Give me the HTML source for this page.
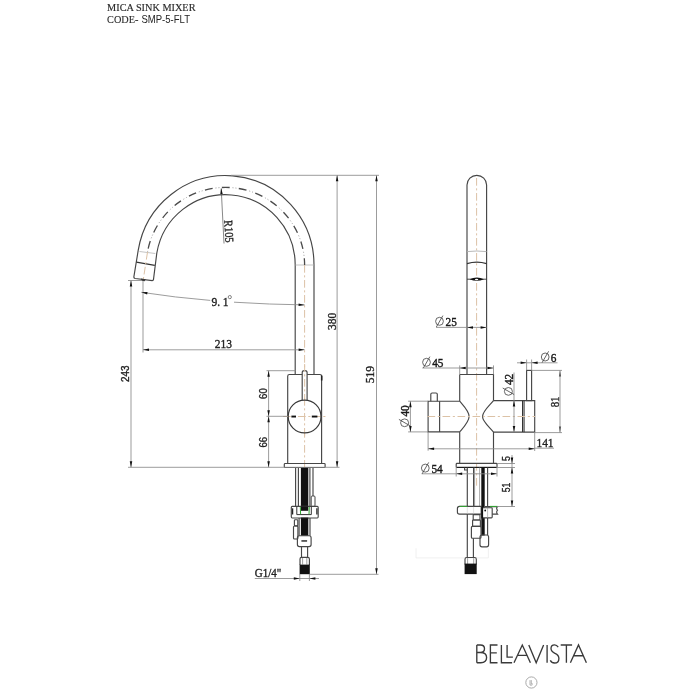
<!DOCTYPE html>
<html><head><meta charset="utf-8"><title>Mica Sink Mixer</title>
<style>
html,body{margin:0;padding:0;background:#fff;width:700px;height:700px;overflow:hidden;font-family:"Liberation Sans",sans-serif;}
svg{display:block;will-change:transform;}
</style></head>
<body>
<svg width="700" height="700" viewBox="0 0 700 700">
<rect width="700" height="700" fill="#fff"/>
<path d="M314.0,374.5 L314.0,265.0 A88.5,89.5 0 0 0 138.19,250.40 L133.9,276.6 Q133.6,278.2 135.2,278.5 L152.2,280.6 Q153.4,280.6 153.5,279.4 L156.79,253.20 A69.7,70.3 0 0 1 295.2,265.0 L295.2,374.5" stroke="#464646" stroke-width="1.15" fill="none"/>
<line x1="136.40" y1="262.20" x2="154.80" y2="265.40" stroke="#333" stroke-width="1.3"/>
<line x1="139.50" y1="251.50" x2="155.30" y2="253.50" stroke="#aaa" stroke-width="0.7"/>
<line x1="295.20" y1="265.00" x2="314.00" y2="265.00" stroke="#aaa" stroke-width="0.7"/>
<path d="M304.6,265.0 A79.1,77.6 0 0 0 147.52,252.00" stroke="#4a4a4a" stroke-width="1.3" fill="none" stroke-dasharray="7.8 9.3" stroke-dashoffset="0.93"/>
<path d="M304.6,265.0 A79.1,77.6 0 0 0 147.52,252.00" stroke="#9a9a9a" stroke-width="1.0" fill="none" stroke-dasharray="1 2.0 1 13.1" stroke-dashoffset="7.83"/>
<line x1="147.52" y1="252.00" x2="143.30" y2="279.50" stroke="#dcc2a6" stroke-width="1.0" fill="none" stroke-dasharray="7.7 2.6 2.1 2.6"/>
<line x1="304.60" y1="265.00" x2="304.60" y2="470.00" stroke="#dcc2a6" stroke-width="1.0" fill="none" stroke-dasharray="7.7 2.6 2.1 2.6"/>
<path d="M140.8,278.6 L145.8,279.3 L144.7,281.2 L141.7,280.8 Z" fill="#3a3a3a"/>
<path d="M287.7,463.5 L287.7,376.2 Q287.7,374.5 289.4,374.5 L319.9,374.5 Q321.6,374.5 321.6,376.2 L321.6,463.5" stroke="#464646" stroke-width="1.15" fill="none"/>
<line x1="321.70" y1="375.50" x2="321.70" y2="380.50" stroke="#222" stroke-width="1.6"/>
<path d="M302.2,401 L302.2,372.5 Q302.2,370.6 304.65,370.6 Q307.1,370.6 307.1,372.5 L307.1,401" fill="#fff" stroke="#464646" stroke-width="1.15"/>
<line x1="304.65" y1="364.00" x2="304.65" y2="400.00" stroke="#dcc2a6" stroke-width="1.0" fill="none" stroke-dasharray="7.7 2.6 2.1 2.6"/>
<circle cx="304.6" cy="416.5" r="16.4" fill="#fff" stroke="none"/>
<line x1="304.60" y1="398.00" x2="304.60" y2="436.00" stroke="#dcc2a6" stroke-width="1.0" fill="none" stroke-dasharray="7.7 2.6 2.1 2.6"/>
<line x1="283.00" y1="416.50" x2="327.00" y2="416.50" stroke="#dcc2a6" stroke-width="1.0" fill="none" stroke-dasharray="7.7 2.6 2.1 2.6"/>
<circle cx="304.6" cy="416.5" r="16.4" fill="none" stroke="#3a3a3a" stroke-width="1.2"/>
<rect x="291.4" y="415.6" width="4.6" height="1.9" fill="#111"/>
<rect x="311.8" y="415.6" width="5.6" height="1.9" fill="#111"/>
<rect x="284.30" y="463.50" width="40.80" height="4.00" rx="0.8" stroke="#464646" stroke-width="1.15" fill="none"/>
<line x1="295.60" y1="467.50" x2="295.60" y2="506.40" stroke="#464646" stroke-width="1.15" fill="none"/>
<line x1="298.40" y1="467.50" x2="298.40" y2="506.40" stroke="#464646" stroke-width="1.15" fill="none"/>
<rect x="300.9" y="467.5" width="7.4" height="68.2" fill="#111"/>
<line x1="309.90" y1="467.50" x2="309.90" y2="506.40" stroke="#464646" stroke-width="1.15" fill="none"/>
<line x1="313.00" y1="467.50" x2="313.00" y2="506.40" stroke="#464646" stroke-width="1.15" fill="none"/>
<rect x="311.2" y="496.0" width="3.8" height="10.4" rx="1" fill="#fff" stroke="#464646" stroke-width="1.0"/>
<path d="M292.2,506.4 L317.3,506.4 Q318.2,506.4 318.2,507.6 L318.2,516.8 Q318.2,518 317.3,518 L292.2,518 Q291.3,518 291.3,516.8 L291.3,507.6 Q291.3,506.4 292.2,506.4 Z" fill="#fff" stroke="#464646" stroke-width="1.15"/>
<rect x="300.9" y="506.4" width="7.4" height="4.4" fill="#111"/>
<rect x="300.9" y="517.6" width="7.4" height="1" fill="#111"/>
<path d="M296.8,506.6 L296.8,514.6 L311.3,514.6 L311.3,506.6" stroke="#333" stroke-width="1.0" fill="none"/>
<line x1="300.30" y1="507.00" x2="300.60" y2="514.20" stroke="#3a3" stroke-width="1.0"/>
<line x1="309.30" y1="507.00" x2="309.00" y2="514.20" stroke="#3a3" stroke-width="1.0"/>
<line x1="292.60" y1="508.30" x2="292.60" y2="514.50" stroke="#222" stroke-width="1.3"/>
<line x1="316.90" y1="508.30" x2="316.90" y2="514.50" stroke="#222" stroke-width="1.3"/>
<line x1="299.10" y1="518.00" x2="299.10" y2="535.70" stroke="#464646" stroke-width="1.15" fill="none"/>
<line x1="310.00" y1="518.00" x2="310.00" y2="535.70" stroke="#464646" stroke-width="1.15" fill="none"/>
<rect x="294.40" y="519.70" width="3.40" height="6.20" rx="0.8" stroke="#464646" stroke-width="1.15" fill="none"/>
<rect x="293.50" y="526.00" width="4.40" height="13.00" rx="1" stroke="#464646" stroke-width="1.15" fill="none"/>
<rect x="297.40" y="535.70" width="13.70" height="10.90" rx="2" stroke="#464646" stroke-width="1.15" fill="none"/>
<rect x="301.4" y="540.3" width="5.7" height="1.3" fill="#111"/>
<line x1="301.50" y1="546.60" x2="301.50" y2="557.40" stroke="#464646" stroke-width="1.15" fill="none"/>
<line x1="307.60" y1="546.60" x2="307.60" y2="557.40" stroke="#464646" stroke-width="1.15" fill="none"/>
<path d="M300.0,565 L300.0,559 Q300.0,557.4 301.6,557.4 L307.8,557.4 Q309.4,557.4 309.4,559 L309.4,565" stroke="#464646" stroke-width="1.15" fill="none"/>
<line x1="302.60" y1="558.00" x2="302.60" y2="564.50" stroke="#777" stroke-width="0.7"/>
<line x1="306.80" y1="558.00" x2="306.80" y2="564.50" stroke="#777" stroke-width="0.7"/>
<rect x="299.6" y="564.6" width="10.2" height="9.6" fill="#111"/>
<line x1="231.00" y1="175.30" x2="379.00" y2="175.30" stroke="#8a8a8a" stroke-width="0.85" fill="none"/>
<line x1="337.10" y1="175.30" x2="337.10" y2="467.30" stroke="#8a8a8a" stroke-width="0.85" fill="none"/>
<path d="M337.10,175.30 L338.35,181.30 L335.85,181.30 Z" fill="#111"/>
<path d="M337.10,467.30 L335.85,461.30 L338.35,461.30 Z" fill="#111"/>
<line x1="376.50" y1="175.30" x2="376.50" y2="574.30" stroke="#8a8a8a" stroke-width="0.85" fill="none"/>
<path d="M376.50,175.30 L377.75,181.30 L375.25,181.30 Z" fill="#111"/>
<path d="M376.50,574.30 L375.25,568.30 L377.75,568.30 Z" fill="#111"/>
<line x1="128.00" y1="467.30" x2="339.50" y2="467.30" stroke="#8a8a8a" stroke-width="0.85" fill="none"/>
<line x1="309.40" y1="574.30" x2="378.50" y2="574.30" stroke="#8a8a8a" stroke-width="0.85" fill="none"/>
<line x1="131.00" y1="280.50" x2="131.00" y2="467.30" stroke="#8a8a8a" stroke-width="0.85" fill="none"/>
<path d="M131.00,280.50 L132.25,286.50 L129.75,286.50 Z" fill="#111"/>
<path d="M131.00,467.30 L129.75,461.30 L132.25,461.30 Z" fill="#111"/>
<line x1="128.00" y1="280.50" x2="142.00" y2="280.50" stroke="#8a8a8a" stroke-width="0.85" fill="none"/>
<line x1="143.00" y1="281.00" x2="143.00" y2="352.50" stroke="#8a8a8a" stroke-width="0.85" fill="none"/>
<line x1="143.00" y1="349.80" x2="304.60" y2="349.80" stroke="#8a8a8a" stroke-width="0.85" fill="none"/>
<path d="M143.00,349.80 L149.00,348.55 L149.00,351.05 Z" fill="#111"/>
<path d="M304.60,349.80 L298.60,351.05 L298.60,348.55 Z" fill="#111"/>
<path d="M141.4,292.3 Q175,297.5 210.2,300.4" stroke="#8a8a8a" stroke-width="0.85" fill="none"/>
<path d="M234,302.2 Q270,304.5 304.6,304.9" stroke="#8a8a8a" stroke-width="0.85" fill="none"/>
<path d="M141.40,292.30 L147.52,292.01 L147.13,294.48 Z" fill="#111"/>
<path d="M304.60,304.90 L298.59,306.09 L298.61,303.59 Z" fill="#111"/>
<line x1="266.50" y1="370.70" x2="295.50" y2="370.70" stroke="#8a8a8a" stroke-width="0.85" fill="none"/>
<line x1="268.60" y1="370.70" x2="268.60" y2="467.30" stroke="#8a8a8a" stroke-width="0.85" fill="none"/>
<path d="M268.60,370.70 L269.85,376.70 L267.35,376.70 Z" fill="#111"/>
<path d="M268.60,416.30 L267.35,410.30 L269.85,410.30 Z" fill="#111"/>
<path d="M268.60,416.30 L269.85,422.30 L267.35,422.30 Z" fill="#111"/>
<path d="M268.60,467.30 L267.35,461.30 L269.85,461.30 Z" fill="#111"/>
<line x1="266.50" y1="416.30" x2="287.60" y2="416.30" stroke="#8a8a8a" stroke-width="0.85" fill="none"/>
<line x1="254.80" y1="578.50" x2="319.00" y2="578.50" stroke="#8a8a8a" stroke-width="0.85" fill="none"/>
<path d="M299.80,578.50 L293.80,579.75 L293.80,577.25 Z" fill="#111"/>
<path d="M309.40,578.50 L315.40,577.25 L315.40,579.75 Z" fill="#111"/>
<line x1="299.80" y1="574.00" x2="299.80" y2="581.00" stroke="#8a8a8a" stroke-width="0.85" fill="none"/>
<line x1="309.40" y1="574.00" x2="309.40" y2="581.00" stroke="#8a8a8a" stroke-width="0.85" fill="none"/>
<line x1="221.20" y1="188.50" x2="224.00" y2="243.50" stroke="#555" stroke-width="0.7"/>
<path d="M221.20,188.00 L222.70,193.93 L220.30,194.05 Z" fill="#111"/>
<text transform="translate(332.30,321.30) rotate(-90) scale(0.92,1)" font-family="Liberation Serif" font-size="12.5" text-anchor="middle" dominant-baseline="central" fill="#222" stroke="#222" stroke-width="0.35" font-weight="normal">380</text>
<text transform="translate(370.70,374.70) rotate(-90) scale(0.95,1)" font-family="Liberation Serif" font-size="12.0" text-anchor="middle" dominant-baseline="central" fill="#222" stroke="#222" stroke-width="0.35" font-weight="normal">519</text>
<text transform="translate(125.10,373.80) rotate(-90) scale(0.92,1)" font-family="Liberation Sans" font-size="10.8" text-anchor="middle" dominant-baseline="central" fill="#222" stroke="#222" stroke-width="0.35" font-weight="normal">243</text>
<text transform="translate(263.20,393.60) rotate(-90) scale(0.85,1)" font-family="Liberation Sans" font-size="11.2" text-anchor="middle" dominant-baseline="central" fill="#222" stroke="#222" stroke-width="0.35" font-weight="normal">60</text>
<text transform="translate(263.20,442.20) rotate(-90) scale(0.85,1)" font-family="Liberation Sans" font-size="11.2" text-anchor="middle" dominant-baseline="central" fill="#222" stroke="#222" stroke-width="0.35" font-weight="normal">66</text>
<text transform="translate(223.40,344.00) rotate(0) scale(0.92,1)" font-family="Liberation Serif" font-size="12.5" text-anchor="middle" dominant-baseline="central" fill="#222" stroke="#222" stroke-width="0.35" font-weight="normal">213</text>
<text transform="translate(220.00,301.60) rotate(0) scale(0.92,1)" font-family="Liberation Serif" font-size="12.5" text-anchor="middle" dominant-baseline="central" fill="#222" stroke="#222" stroke-width="0.35" font-weight="normal">9. 1</text>
<circle cx="229.8" cy="297.1" r="1.6" fill="none" stroke="#444" stroke-width="0.65"/>
<text transform="translate(229.20,231.30) rotate(87) scale(0.86,1)" font-family="Liberation Serif" font-size="12.0" text-anchor="middle" dominant-baseline="central" fill="#222" stroke="#222" stroke-width="0.35" font-weight="normal">R105</text>
<text transform="translate(254.80,572.80) rotate(0) scale(0.92,1)" font-family="Liberation Serif" font-size="12.0" text-anchor="start" dominant-baseline="central" fill="#222" stroke="#222" stroke-width="0.35" font-weight="normal">G1/4"</text>
<path d="M467.0,374.5 L467.0,185.1 A9.8,9.8 0 0 1 486.6,185.1 L486.6,374.5" stroke="#464646" stroke-width="1.15" fill="none"/>
<line x1="476.60" y1="178.00" x2="476.60" y2="486.00" stroke="#dcc2a6" stroke-width="1.0" fill="none" stroke-dasharray="7.7 2.6 2.1 2.6"/>
<path d="M467.0,251.6 Q476.8,250.4 486.6,251.6" stroke="#b0b0b0" stroke-width="0.9" fill="none"/>
<path d="M467.0,263.6 Q476.8,260.6 486.6,263.6" stroke="#333" stroke-width="1.2" fill="none"/>
<line x1="467.00" y1="279.20" x2="486.60" y2="279.20" stroke="#333" stroke-width="0.9"/>
<path d="M469.6,279.2 Q476.8,275.9 484.0,279.2 Q476.8,282.3 469.6,279.2 Z" fill="#111"/>
<ellipse cx="476.6" cy="279.4" rx="1.7" ry="0.75" fill="#fff"/>
<path d="M459.7,374.5 L493.5,374.5 L493.5,400.8 M459.7,374.5 L459.7,401.2 C463.6,405.8 469.1,411.3 469.1,416.4 C469.1,421.5 463.6,427.2 459.7,431.9 L459.7,463.5" stroke="#464646" stroke-width="1.15" fill="none"/>
<path d="M493.5,400.6 C489.6,405.4 482.5,411.4 482.5,416.5 C482.5,421.6 489.6,427.3 493.5,432.1 L493.5,463.5" stroke="#464646" stroke-width="1.15" fill="none"/>
<path d="M459.7,401.2 L428.1,401.2 L428.1,431.9 L459.7,431.9" stroke="#464646" stroke-width="1.15" fill="none"/>
<line x1="439.60" y1="401.20" x2="439.60" y2="431.90" stroke="#464646" stroke-width="1.15" fill="none"/>
<path d="M430.8,401.2 L430.8,394.3 Q430.8,393 432.1,393 L436.0,393 Q437.3,393 437.3,394.3 L437.3,401.2" stroke="#464646" stroke-width="1.15" fill="none"/>
<path d="M493.5,400.6 L534.7,400.6 L534.7,432.1 L493.5,432.1" stroke="#464646" stroke-width="1.15" fill="none"/>
<line x1="522.60" y1="400.60" x2="522.60" y2="432.10" stroke="#333" stroke-width="1.2"/>
<line x1="524.10" y1="400.60" x2="524.10" y2="432.10" stroke="#333" stroke-width="1.0"/>
<rect x="526.60" y="370.40" width="5.00" height="30.20" rx="0" stroke="#464646" stroke-width="1.15" fill="none"/>
<line x1="427.50" y1="416.50" x2="535.00" y2="416.50" stroke="#dcc2a6" stroke-width="1.0" fill="none" stroke-dasharray="7.7 2.6 2.1 2.6"/>
<rect x="456.20" y="463.40" width="40.80" height="4.10" rx="0.8" stroke="#464646" stroke-width="1.15" fill="none"/>
<line x1="457.00" y1="467.30" x2="496.00" y2="467.30" stroke="#111" stroke-width="1.0"/>
<line x1="467.30" y1="467.50" x2="467.30" y2="557.50" stroke="#464646" stroke-width="1.15" fill="none"/>
<line x1="473.60" y1="467.50" x2="473.60" y2="514.00" stroke="#464646" stroke-width="1.15" fill="none"/>
<line x1="474.60" y1="467.50" x2="474.60" y2="506.50" stroke="#666" stroke-width="0.6"/>
<line x1="479.60" y1="467.50" x2="479.60" y2="506.50" stroke="#888" stroke-width="0.7"/>
<rect x="481.3" y="467.5" width="3.4" height="68" fill="#111"/>
<line x1="487.60" y1="467.50" x2="487.60" y2="535.00" stroke="#464646" stroke-width="1.15" fill="none"/>
<path d="M464.6,467.5 L464.6,470.0 L467.3,470.0" stroke="#464646" stroke-width="1.15" fill="none"/>
<path d="M459.5,506.4 L481.2,506.4 L481.2,514.1 L459.5,514.1 Q457.4,514.1 457.4,512.0 L457.4,508.5 Q457.4,506.4 459.5,506.4 Z" fill="#fff" stroke="#464646" stroke-width="1.15"/>
<line x1="467.30" y1="506.90" x2="467.30" y2="513.60" stroke="#ccc" stroke-width="0.6"/>
<line x1="473.60" y1="506.90" x2="473.60" y2="513.60" stroke="#ccc" stroke-width="0.6"/>
<line x1="459.50" y1="506.40" x2="467.30" y2="506.40" stroke="#3a3" stroke-width="1.0"/>
<path d="M485.0,506.6 L497.5,506.6 Q495.8,508.4 497.5,510.2 Q495.8,512.1 497.5,514.1 L491.5,514.1" fill="#fff" stroke="#464646" stroke-width="1.1"/>
<line x1="490.00" y1="506.40" x2="497.50" y2="506.40" stroke="#3a3" stroke-width="1.0"/>
<rect x="482.2" y="507.7" width="10.0" height="10.2" rx="0.8" fill="#fff" stroke="#464646" stroke-width="1.15"/>
<line x1="487.60" y1="507.70" x2="487.60" y2="517.90" stroke="#999" stroke-width="0.6"/>
<rect x="481.3" y="506.4" width="1.8" height="12" fill="#111"/>
<circle cx="485.2" cy="510.5" r="0.9" fill="#111"/>
<path d="M416,548.3 L416,557.9 L488.4,557.9 L488.4,548.3" fill="none" stroke="#ececec" stroke-width="0.8"/>
<rect x="473.20" y="514.60" width="6.80" height="5.40" rx="0.5" stroke="#464646" stroke-width="1.15" fill="none"/>
<rect x="472.60" y="520.00" width="7.80" height="6.40" rx="0.5" stroke="#464646" stroke-width="1.15" fill="none"/>
<rect x="471.40" y="526.40" width="9.60" height="11.80" rx="1" stroke="#464646" stroke-width="1.15" fill="none"/>
<line x1="473.40" y1="538.20" x2="473.40" y2="557.50" stroke="#464646" stroke-width="1.15" fill="none"/>
<rect x="480.00" y="535.00" width="8.60" height="11.80" rx="2" stroke="#464646" stroke-width="1.15" fill="none"/>
<path d="M465.0,564.5 L465.0,559.2 Q465.0,557.5 466.7,557.5 L474.6,557.5 Q476.3,557.5 476.3,559.2 L476.3,564.5" stroke="#464646" stroke-width="1.15" fill="none"/>
<line x1="467.60" y1="558.20" x2="467.60" y2="564.00" stroke="#777" stroke-width="0.7"/>
<line x1="473.70" y1="558.20" x2="473.70" y2="564.00" stroke="#777" stroke-width="0.7"/>
<rect x="464.6" y="563.6" width="12.1" height="10.5" fill="#111"/>
<line x1="436.00" y1="327.40" x2="486.60" y2="327.40" stroke="#8a8a8a" stroke-width="0.85" fill="none"/>
<path d="M467.00,327.40 L473.00,326.15 L473.00,328.65 Z" fill="#111"/>
<path d="M486.60,327.40 L480.60,328.65 L480.60,326.15 Z" fill="#111"/>
<g transform="translate(439.50,321.30) rotate(0)"><ellipse rx="3.88" ry="4.00" fill="none" stroke="#4a4a4a" stroke-width="0.85"/><line x1="-3.12" y1="5.68" x2="3.40" y2="-5.68" stroke="#4a4a4a" stroke-width="0.85"/></g>
<text transform="translate(451.20,321.70) rotate(0) scale(0.88,1)" font-family="Liberation Serif" font-size="12.8" text-anchor="middle" dominant-baseline="central" fill="#1a1a1a" stroke="#1a1a1a" stroke-width="0.42" font-weight="normal">25</text>
<line x1="422.30" y1="368.00" x2="493.50" y2="368.00" stroke="#8a8a8a" stroke-width="0.85" fill="none"/>
<path d="M459.70,368.00 L465.70,366.75 L465.70,369.25 Z" fill="#111"/>
<path d="M493.50,368.00 L487.50,369.25 L487.50,366.75 Z" fill="#111"/>
<line x1="459.70" y1="365.40" x2="459.70" y2="374.50" stroke="#8a8a8a" stroke-width="0.85" fill="none"/>
<line x1="493.50" y1="365.40" x2="493.50" y2="374.50" stroke="#8a8a8a" stroke-width="0.85" fill="none"/>
<g transform="translate(426.50,362.30) rotate(0)"><ellipse rx="3.88" ry="4.00" fill="none" stroke="#4a4a4a" stroke-width="0.85"/><line x1="-3.12" y1="5.68" x2="3.40" y2="-5.68" stroke="#4a4a4a" stroke-width="0.85"/></g>
<text transform="translate(437.80,362.80) rotate(0) scale(0.88,1)" font-family="Liberation Serif" font-size="12.8" text-anchor="middle" dominant-baseline="central" fill="#1a1a1a" stroke="#1a1a1a" stroke-width="0.42" font-weight="normal">45</text>
<line x1="517.00" y1="362.80" x2="557.50" y2="362.80" stroke="#8a8a8a" stroke-width="0.85" fill="none"/>
<path d="M526.60,362.80 L520.60,364.05 L520.60,361.55 Z" fill="#111"/>
<path d="M531.60,362.80 L537.60,361.55 L537.60,364.05 Z" fill="#111"/>
<line x1="526.60" y1="359.50" x2="526.60" y2="370.40" stroke="#8a8a8a" stroke-width="0.85" fill="none"/>
<line x1="531.60" y1="359.50" x2="531.60" y2="370.40" stroke="#8a8a8a" stroke-width="0.85" fill="none"/>
<g transform="translate(545.20,357.00) rotate(0)"><ellipse rx="3.88" ry="4.00" fill="none" stroke="#4a4a4a" stroke-width="0.85"/><line x1="-3.12" y1="5.68" x2="3.40" y2="-5.68" stroke="#4a4a4a" stroke-width="0.85"/></g>
<text transform="translate(553.60,358.00) rotate(0) scale(0.88,1)" font-family="Liberation Serif" font-size="12.8" text-anchor="middle" dominant-baseline="central" fill="#1a1a1a" stroke="#1a1a1a" stroke-width="0.42" font-weight="normal">6</text>
<line x1="514.00" y1="372.50" x2="514.00" y2="432.10" stroke="#8a8a8a" stroke-width="0.85" fill="none"/>
<path d="M514.00,400.60 L515.25,406.60 L512.75,406.60 Z" fill="#111"/>
<path d="M514.00,432.10 L512.75,426.10 L515.25,426.10 Z" fill="#111"/>
<g transform="translate(508.40,391.40) rotate(-90)"><ellipse rx="3.88" ry="4.00" fill="none" stroke="#4a4a4a" stroke-width="0.85"/><line x1="-3.12" y1="5.68" x2="3.40" y2="-5.68" stroke="#4a4a4a" stroke-width="0.85"/></g>
<text transform="translate(508.60,379.50) rotate(-90) scale(0.88,1)" font-family="Liberation Serif" font-size="12.8" text-anchor="middle" dominant-baseline="central" fill="#1a1a1a" stroke="#1a1a1a" stroke-width="0.42" font-weight="normal">42</text>
<line x1="408.10" y1="401.20" x2="428.10" y2="401.20" stroke="#8a8a8a" stroke-width="0.85" fill="none"/>
<line x1="408.10" y1="431.90" x2="428.10" y2="431.90" stroke="#8a8a8a" stroke-width="0.85" fill="none"/>
<line x1="410.40" y1="401.20" x2="410.40" y2="431.90" stroke="#8a8a8a" stroke-width="0.85" fill="none"/>
<path d="M410.40,401.20 L411.65,407.20 L409.15,407.20 Z" fill="#111"/>
<path d="M410.40,431.90 L409.15,425.90 L411.65,425.90 Z" fill="#111"/>
<g transform="translate(404.60,422.80) rotate(-90)"><ellipse rx="3.88" ry="4.00" fill="none" stroke="#4a4a4a" stroke-width="0.85"/><line x1="-3.12" y1="5.68" x2="3.40" y2="-5.68" stroke="#4a4a4a" stroke-width="0.85"/></g>
<text transform="translate(404.80,410.90) rotate(-90) scale(0.88,1)" font-family="Liberation Serif" font-size="12.8" text-anchor="middle" dominant-baseline="central" fill="#1a1a1a" stroke="#1a1a1a" stroke-width="0.42" font-weight="normal">40</text>
<line x1="531.60" y1="370.40" x2="562.00" y2="370.40" stroke="#8a8a8a" stroke-width="0.85" fill="none"/>
<line x1="534.70" y1="432.60" x2="562.00" y2="432.60" stroke="#8a8a8a" stroke-width="0.85" fill="none"/>
<line x1="560.00" y1="370.40" x2="560.00" y2="432.60" stroke="#8a8a8a" stroke-width="0.85" fill="none"/>
<path d="M560.00,370.40 L561.10,376.40 L558.90,376.40 Z" fill="#555"/>
<path d="M560.00,432.60 L558.90,426.60 L561.10,426.60 Z" fill="#555"/>
<text transform="translate(554.60,401.90) rotate(-90) scale(0.92,1)" font-family="Liberation Serif" font-size="11.8" text-anchor="middle" dominant-baseline="central" fill="#222" stroke="#222" stroke-width="0.35" font-weight="normal">81</text>
<line x1="428.10" y1="431.90" x2="428.10" y2="450.70" stroke="#8a8a8a" stroke-width="0.85" fill="none"/>
<line x1="534.70" y1="432.10" x2="534.70" y2="451.00" stroke="#8a8a8a" stroke-width="0.85" fill="none"/>
<line x1="428.10" y1="448.80" x2="534.70" y2="448.80" stroke="#8a8a8a" stroke-width="0.85" fill="none"/>
<path d="M428.10,448.80 L434.10,447.55 L434.10,450.05 Z" fill="#111"/>
<path d="M534.70,448.80 L528.70,450.05 L528.70,447.55 Z" fill="#111"/>
<line x1="534.70" y1="448.20" x2="554.00" y2="448.20" stroke="#8a8a8a" stroke-width="0.85" fill="none"/>
<text transform="translate(545.00,442.60) rotate(0) scale(0.92,1)" font-family="Liberation Serif" font-size="12.5" text-anchor="middle" dominant-baseline="central" fill="#222" stroke="#222" stroke-width="0.35" font-weight="normal">141</text>
<line x1="421.70" y1="473.80" x2="497.00" y2="473.80" stroke="#8a8a8a" stroke-width="0.85" fill="none"/>
<path d="M456.20,473.80 L462.20,472.55 L462.20,475.05 Z" fill="#111"/>
<path d="M497.00,473.80 L491.00,475.05 L491.00,472.55 Z" fill="#111"/>
<line x1="456.20" y1="467.50" x2="456.20" y2="476.50" stroke="#8a8a8a" stroke-width="0.85" fill="none"/>
<line x1="497.00" y1="467.50" x2="497.00" y2="476.50" stroke="#8a8a8a" stroke-width="0.85" fill="none"/>
<g transform="translate(425.30,468.10) rotate(0)"><ellipse rx="3.88" ry="4.00" fill="none" stroke="#4a4a4a" stroke-width="0.85"/><line x1="-3.12" y1="5.68" x2="3.40" y2="-5.68" stroke="#4a4a4a" stroke-width="0.85"/></g>
<text transform="translate(437.00,468.80) rotate(0) scale(0.88,1)" font-family="Liberation Serif" font-size="12.8" text-anchor="middle" dominant-baseline="central" fill="#1a1a1a" stroke="#1a1a1a" stroke-width="0.42" font-weight="normal">54</text>
<line x1="497.00" y1="463.50" x2="515.00" y2="463.50" stroke="#8a8a8a" stroke-width="0.85" fill="none"/>
<line x1="497.00" y1="467.50" x2="515.00" y2="467.50" stroke="#8a8a8a" stroke-width="0.85" fill="none"/>
<line x1="497.00" y1="506.50" x2="515.00" y2="506.50" stroke="#8a8a8a" stroke-width="0.85" fill="none"/>
<line x1="512.00" y1="455.00" x2="512.00" y2="506.50" stroke="#8a8a8a" stroke-width="0.85" fill="none"/>
<path d="M512.00,463.50 L510.75,457.50 L513.25,457.50 Z" fill="#111"/>
<path d="M512.00,467.50 L513.25,473.50 L510.75,473.50 Z" fill="#111"/>
<path d="M512.00,506.50 L510.75,500.50 L513.25,500.50 Z" fill="#111"/>
<text transform="translate(506.40,458.50) rotate(-90) scale(0.85,1)" font-family="Liberation Sans" font-size="10.5" text-anchor="middle" dominant-baseline="central" fill="#222" stroke="#222" stroke-width="0.35" font-weight="normal">5</text>
<text transform="translate(506.40,487.50) rotate(-90) scale(0.82,1)" font-family="Liberation Sans" font-size="10.5" text-anchor="middle" dominant-baseline="central" fill="#222" stroke="#222" stroke-width="0.35" font-weight="normal">51</text>
<text x="107.1" y="11.3" font-family="Liberation Serif" font-size="10.3" fill="#2a2a2a" stroke="#2a2a2a" stroke-width="0.15" textLength="88.4" lengthAdjust="spacingAndGlyphs">MICA SINK MIXER</text>
<text x="107.1" y="23.4" font-family="Liberation Serif" font-size="10.3" fill="#2a2a2a" stroke="#2a2a2a" stroke-width="0.1" textLength="31.3" lengthAdjust="spacingAndGlyphs">CODE-</text>
<text x="141.4" y="23.4" font-family="Liberation Sans" font-size="11" fill="#222" textLength="48.6" lengthAdjust="spacingAndGlyphs">SMP-5-FLT</text>
<path d="M476.8,645 L476.8,662.7 M476.8,645 L480.4,645 Q484.5,645 484.5,648.8 Q484.5,652.5 480.4,652.5 L476.8,652.5 M480.4,652.5 Q486.6,652.5 486.6,657.6 Q486.6,662.7 480.8,662.7 L476.8,662.7 M497.5,645 L490.4,645 L490.4,662.7 L497.5,662.7 M490.4,652.9 L496.8,652.9 M501.4,645 L501.4,662.7 L512.1,662.7 M507.1,645 L507.1,657.1 L512.9,657.1 M514.0,662.7 L522.3,645 L530.4,662.7 M517.6,655.4 L527.0,655.4 M528.8,645 L536.2,662.7 L543.6,645 M547.1,645 L547.1,662.7 M558.2,647.2 Q556.8,644.8 554.6,644.8 Q551.0,644.8 551.0,648.6 Q551.0,651.6 554.9,653.3 Q558.9,655.0 558.9,658.4 Q558.9,663.0 554.5,663.0 Q551.6,663.0 550.3,660.4 M560.7,645 L572.1,645 M566.4,645 L566.4,662.7 M570.4,662.7 L578.5,645 L586.4,662.7 M573.6,655.7 L583.4,655.7" stroke="#3a3a3a" stroke-width="1.35" fill="none" stroke-linejoin="miter"/>
<circle cx="531.4" cy="682.5" r="5.6" fill="none" stroke="#a0a0a0" stroke-width="0.9"/>
<path d="M530.0,680.1 L530.0,685.1 L532.2,685.1 M531.3,680.1 L531.3,684.0 L533.0,684.0" stroke="#a0a0a0" stroke-width="0.8" fill="none"/>
</svg>
</body></html>
